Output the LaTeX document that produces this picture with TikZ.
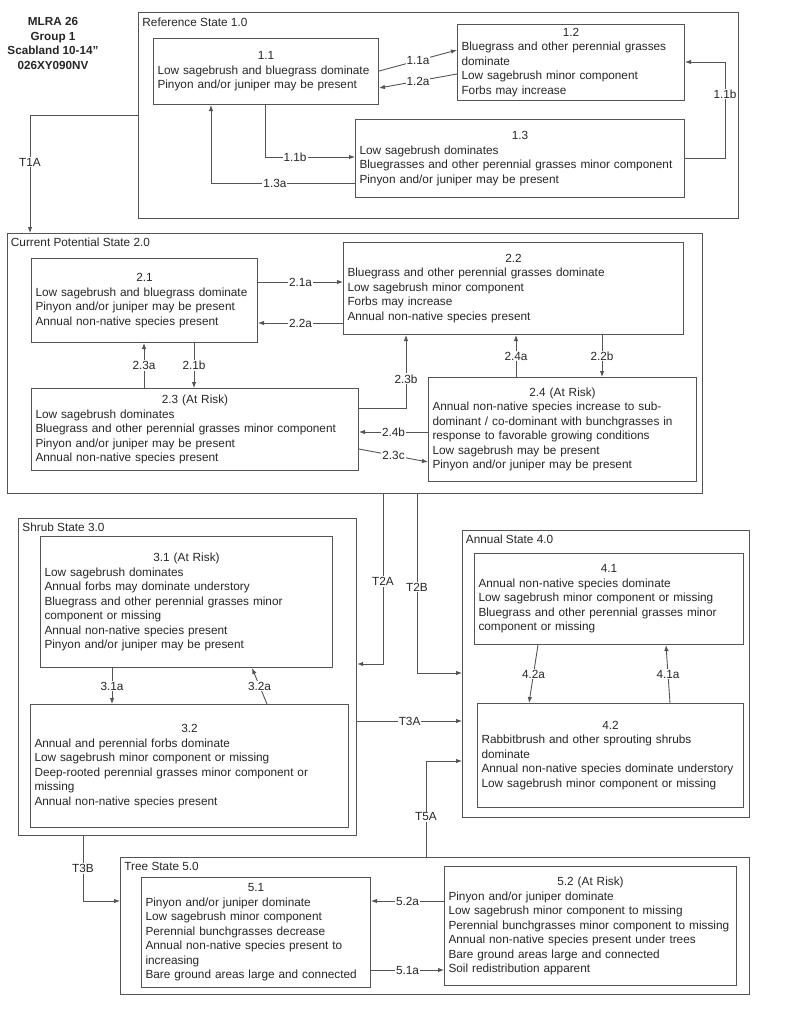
\documentclass[tikz,border=0pt]{standalone}
\usepackage{fontspec}
\setmainfont{Liberation Sans}
\usetikzlibrary{arrows.meta,positioning}
\setlength{\parindent}{0pt}
\definecolor{linegray}{gray}{0.33}
\definecolor{textgray}{gray}{0.15}
\newcommand{\boxfont}{\fontsize{11.8}{14.5}\selectfont}
\newcommand{\phasenum}[1]{\makebox[\hsize]{#1}\\}
\tikzstyle{state}=[draw=linegray, line width=1.2pt, anchor=north west, inner sep=0pt]
\tikzstyle{phase}=[draw=linegray, line width=1pt, anchor=north west, inner xsep=4pt,
                   inner ysep=0pt, align=left, font=\boxfont, text=textgray]
\tikzstyle{statename}=[inner sep=0pt, font=\boxfont, text=textgray]
\tikzstyle{lbl}=[fill=white, inner sep=1pt, font=\boxfont, text=textgray]
\tikzstyle{title}=[align=center, text=textgray, font=\bfseries\fontsize{11.7}{14.5}\selectfont]

\begin{document}
\begin{tikzpicture}[x=1pt, y=-1pt, color=linegray, line width=0.9pt, -{Latex[length=6pt,width=4.5pt]}]
  \useasboundingbox (0,0) rectangle (800,1021);
  \node[title] (title) at (53,43.5) {MLRA 26\\Group 1\\Scabland 10-14"\\026XY090NV};

  % reference state
  \node[state, minimum width=600pt, minimum height=206pt] (s1) at (138,12) {};
  \node[statename, below right=5.5pt and 4pt of s1.north west] (s1name) {Reference State 1.0};
  \node[phase, minimum width=225pt, minimum height=66pt, text width=217pt] (b11) at (153,38)
    {\phasenum{1.1}Low sagebrush and bluegrass dominate\\Pinyon and/or juniper may be present};
  \node[phase, minimum width=227pt, minimum height=76pt, text width=219pt] (b12) at (457,24)
    {\phasenum{1.2}Bluegrass and other perennial grasses\\dominate\\Low sagebrush minor component\\Forbs may increase};
  \node[phase, minimum width=329pt, minimum height=78pt, text width=321pt] (b13) at (355,119)
    {\phasenum{1.3}Low sagebrush dominates\\Bluegrasses and other perennial grasses minor component\\Pinyon and/or juniper may be present};

  \draw ([yshift=-33pt]b11.north east) -- node[lbl]{1.1a} ([yshift=-26pt]b12.north west);
  \draw ([yshift=-50pt]b12.north west) -- node[lbl]{1.2a} ([yshift=-50pt]b11.north east);
  \draw ([xshift=112pt]b11.south west) |- node[lbl, pos=0.667]{1.1b} ([yshift=-38pt]b13.north west);
  \draw ([yshift=-64pt]b13.north west) -| node[lbl, pos=0.278]{1.3a} ([xshift=58pt]b11.south west);
  \draw ([yshift=-39pt]b13.north east) -- ++(40pt,0pt) |- node[lbl, pos=0.333]{1.1b} ([yshift=-38pt]b12.north east);

  % current potential state
  \node[state, minimum width=695pt, minimum height=260pt] (s2) at (7,233) {};
  \node[statename, below right=4.5pt and 3.5pt of s2.north west] (s2name) {Current Potential State 2.0};
  \node[phase, minimum width=226pt, minimum height=84pt, text width=218pt] (b21) at (31,258)
    {\phasenum{2.1}Low sagebrush and bluegrass dominate\\Pinyon and/or juniper may be present\\Annual non-native species present};
  \node[phase, minimum width=340pt, minimum height=92pt, text width=332pt] (b22) at (343,242)
    {\phasenum{2.2}Bluegrass and other perennial grasses dominate\\Low sagebrush minor component\\Forbs may increase\\Annual non-native species present};
  \node[phase, minimum width=327pt, minimum height=82pt, text width=319pt] (b23) at (31,388)
    {\phasenum{2.3 (At Risk)}Low sagebrush dominates\\Bluegrass and other perennial grasses minor component\\Pinyon and/or juniper may be present\\Annual non-native species present};
  \node[phase, minimum width=268pt, minimum height=104pt, text width=260pt] (b24) at (428,377)
    {\phasenum{2.4 (At Risk)}Annual non-native species increase to sub-\\dominant / co-dominant with bunchgrasses in\\response to favorable growing conditions\\Low sagebrush may be present\\Pinyon and/or juniper may be present};

  \draw ([yshift=-24pt]b21.north east) -- node[lbl]{2.1a} ([yshift=-40pt]b22.north west);
  \draw ([yshift=-81pt]b22.north west) -- node[lbl]{2.2a} ([yshift=-65pt]b21.north east);
  \draw ([xshift=113pt]b23.north west) -- node[lbl]{2.3a} ([xshift=113pt]b21.south west);
  \draw ([xshift=163pt]b21.south west) -- node[lbl]{2.1b} ([xshift=163pt]b23.north west);
  \draw ([yshift=-20pt]b23.north east) -| node[lbl, pos=0.70]{2.3b} ([xshift=63pt]b22.south west);
  \draw ([yshift=-55pt]b24.north west) -- node[lbl]{2.4b} ([yshift=-44pt]b23.north east);
  \draw ([yshift=-61pt]b23.north east) -- node[lbl]{2.3c} ([yshift=-85pt]b24.north west);
  \draw ([xshift=88pt]b24.north west) -- node[lbl]{2.4a} ([xshift=173pt]b22.south west);
  \draw ([xshift=259pt]b22.south west) -- node[lbl]{2.2b} ([xshift=174pt]b24.north west);

  \draw ([yshift=-103pt]s1.north west) -| node[lbl, pos=0.70]{T1A} ([xshift=23pt]s2.north west);

  % shrub state
  \node[state, minimum width=338pt, minimum height=317pt] (s3) at (18,518) {};
  \node[statename, below right=4.5pt and 4pt of s3.north west] (s3name) {Shrub State 3.0};
  \node[phase, minimum width=292pt, minimum height=131pt, text width=284pt] (b31) at (40,536)
    {\phasenum{3.1 (At Risk)}Low sagebrush dominates\\Annual forbs may dominate understory\\Bluegrass and other perennial grasses minor\\component or missing\\Annual non-native species present\\Pinyon and/or juniper may be present};
  \node[phase, minimum width=318pt, minimum height=123pt, text width=310pt] (b32) at (30,704)
    {\phasenum{3.2}Annual and perennial forbs dominate\\Low sagebrush minor component or missing\\Deep-rooted perennial grasses minor component or\\missing\\Annual non-native species present};

  \draw ([xshift=72pt]b31.south west) -- node[lbl]{3.1a} ([xshift=82pt]b32.north west);
  \draw ([xshift=237pt]b32.north west) -- node[lbl]{3.2a} ([xshift=212pt]b31.south west);

  % annual state
  \node[state, minimum width=287pt, minimum height=287pt] (s4) at (462,530) {};
  \node[statename, below right=4.5pt and 3.5pt of s4.north west] (s4name) {Annual State 4.0};
  \node[phase, minimum width=269pt, minimum height=91pt, text width=261pt] (b41) at (474,553)
    {\phasenum{4.1}Annual non-native species dominate\\Low sagebrush minor component or missing\\Bluegrass and other perennial grasses minor\\component or missing};
  \node[phase, minimum width=266pt, minimum height=104pt, text width=258pt] (b42) at (477,703)
    {\phasenum{4.2}Rabbitbrush and other sprouting shrubs\\dominate\\Annual non-native species dominate understory\\Low sagebrush minor component or missing};

  \draw ([xshift=64pt]b41.south west) -- node[lbl]{4.2a} ([xshift=52pt]b42.north west);
  \draw ([xshift=193pt]b42.north west) -- node[lbl]{4.1a} ([xshift=192pt]b41.south west);

  % tree state
  \node[state, minimum width=629pt, minimum height=137pt] (s5) at (120,857) {};
  \node[statename, below right=4.5pt and 4pt of s5.north west] (s5name) {Tree State 5.0};
  \node[phase, minimum width=229pt, minimum height=110pt, text width=221pt] (b51) at (141,877)
    {\phasenum{5.1}Pinyon and/or juniper dominate\\Low sagebrush minor component\\Perennial bunchgrasses decrease\\Annual non-native species present to\\increasing\\Bare ground areas large and connected};
  \node[phase, minimum width=292pt, minimum height=119pt, text width=284pt] (b52) at (444,866)
    {\phasenum{5.2 (At Risk)}Pinyon and/or juniper dominate\\Low sagebrush minor component to missing\\Perennial bunchgrasses minor component to missing\\Annual non-native species present under trees\\Bare ground areas large and connected\\Soil redistribution apparent};

  \draw ([yshift=-35pt]b52.north west) -- node[lbl]{5.2a} ([yshift=-24pt]b51.north east);
  \draw ([yshift=-93pt]b51.north east) -- node[lbl]{5.1a} ([yshift=-104pt]b52.north west);

  % transitions between states
  \draw ([xshift=376pt]s2.south west) |- node[lbl, pos=0.257]{T2A} ([yshift=-146pt]s3.north east);
  \draw ([xshift=410pt]s2.south west) |- node[lbl, pos=0.26]{T2B} ([yshift=-143pt]s4.north west);
  \draw ([yshift=-203pt]s3.north east) -- node[lbl]{T3A} ([yshift=-191pt]s4.north west);
  \draw ([xshift=306pt]s5.north west) |- node[lbl, pos=0.21]{T5A} ([yshift=-231pt]s4.north west);
  \draw ([xshift=65pt]s3.south west) |- node[lbl, pos=0.25]{T3B} ([yshift=-44pt]s5.north west);
\end{tikzpicture}
\end{document}
